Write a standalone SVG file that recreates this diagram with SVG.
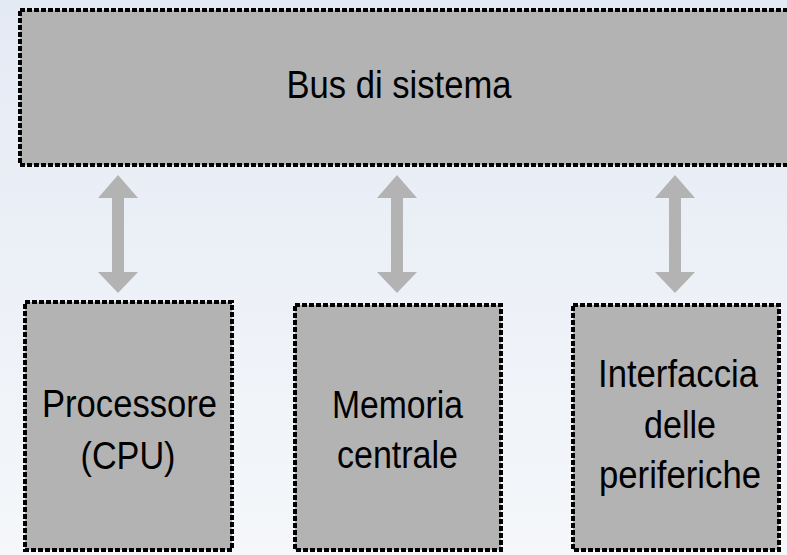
<svg xmlns="http://www.w3.org/2000/svg" width="787" height="555" viewBox="0 0 787 555">
  <defs>
    <linearGradient id="bg" x1="0" y1="0" x2="0" y2="1">
      <stop offset="0" stop-color="#e4eaf4"/>
      <stop offset="1" stop-color="#f5f7fa"/>
    </linearGradient>
    <style>
      .box { fill: #b3b3b3; stroke: #000; stroke-width: 4; stroke-dasharray: 5 2; }
      .lbl { font-family: "Liberation Sans", Arial, sans-serif; font-size: 38px; fill: #000; text-anchor: middle; }
      .arr { fill: #b3b3b3; }
    </style>
  </defs>
  <rect width="787" height="555" fill="url(#bg)"/>

  <g id="bus">
    <rect class="box" x="20" y="10" width="800" height="155"/>
    <text class="lbl" x="399" y="98" font-size="39" textLength="225" lengthAdjust="spacingAndGlyphs">Bus di sistema</text>
  </g>

  <g id="connectors">
    <path class="arr" d="M118 175 L138 198 L124 198 L124 272 L138 272 L118 293 L98 272 L112 272 L112 198 L98 198 Z"/>
    <path class="arr" d="M397 175 L417 198 L403 198 L403 272 L417 272 L397 293 L377 272 L391 272 L391 198 L377 198 Z"/>
    <path class="arr" d="M675 175 L695 198 L681 198 L681 272 L695 272 L675 293 L655 272 L669 272 L669 198 L655 198 Z"/>
  </g>

  <g id="cpu">
    <rect class="box" x="25" y="302" width="207" height="248"/>
    <text class="lbl" x="129.5" y="417" textLength="175" lengthAdjust="spacingAndGlyphs">Processore</text>
    <text class="lbl" x="128" y="469" textLength="95" lengthAdjust="spacingAndGlyphs">(CPU)</text>
  </g>

  <g id="memoria">
    <rect class="box" x="295" y="305" width="206" height="245"/>
    <text class="lbl" x="397.5" y="418" textLength="131" lengthAdjust="spacingAndGlyphs">Memoria</text>
    <text class="lbl" x="397.5" y="468" textLength="121" lengthAdjust="spacingAndGlyphs">centrale</text>
  </g>

  <g id="interfaccia">
    <rect class="box" x="573" y="305" width="206" height="245"/>
    <text class="lbl" x="678" y="387" textLength="160" lengthAdjust="spacingAndGlyphs">Interfaccia</text>
    <text class="lbl" x="680" y="438" textLength="72" lengthAdjust="spacingAndGlyphs">delle</text>
    <text class="lbl" x="680" y="488" textLength="162" lengthAdjust="spacingAndGlyphs">periferiche</text>
  </g>
</svg>
